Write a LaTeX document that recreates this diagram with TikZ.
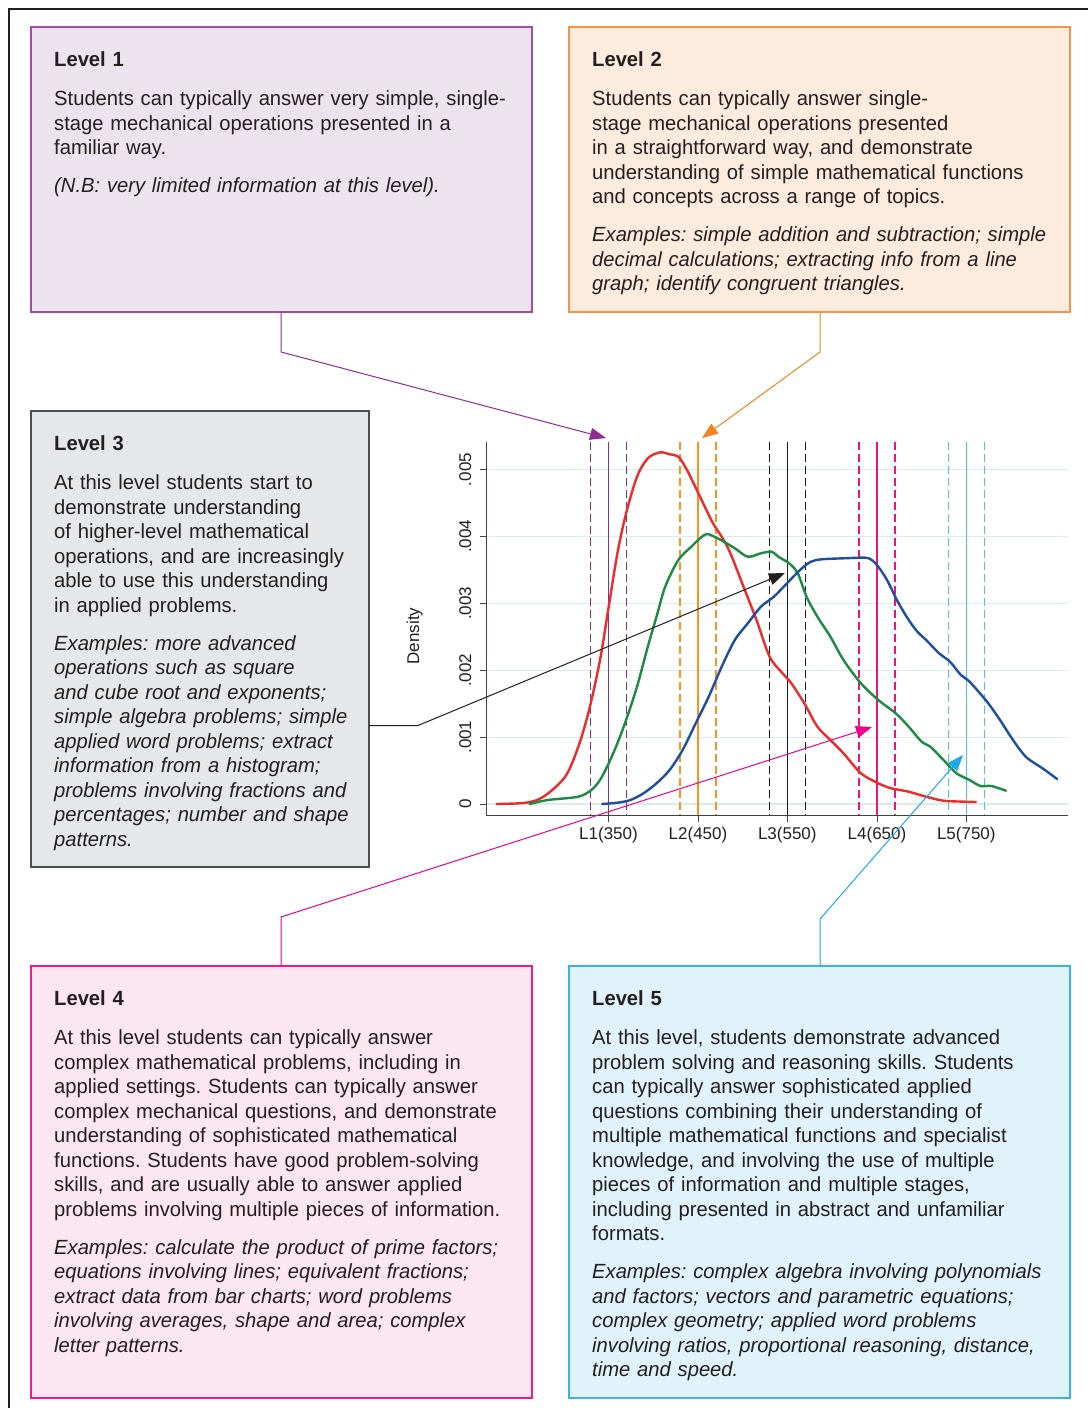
\documentclass[tikz,border=0pt]{standalone}
\usepackage{fontspec}
\setmainfont[FakeStretch=0.985]{Liberation Sans}
\newfontfamily\chartfam{Liberation Sans}
\frenchspacing
\usetikzlibrary{arrows.meta}
\definecolor{textc}{HTML}{231F20}
\definecolor{pur}{HTML}{8E2D91}
\definecolor{purfill}{HTML}{EDE3EF}
\definecolor{purdraw}{HTML}{A24BA8}
\definecolor{org}{HTML}{F58220}
\definecolor{orgfill}{HTML}{FDECDD}
\definecolor{orgdraw}{HTML}{F59449}
\definecolor{greyfill}{HTML}{E6E7E8}
\definecolor{greydraw}{HTML}{4D4D4F}
\definecolor{mag}{HTML}{EC008C}
\definecolor{magfill}{HTML}{FCE6EF}
\definecolor{magdraw}{HTML}{EC1C8C}
\definecolor{cyn}{HTML}{1CAAE2}
\definecolor{cynfill}{HTML}{E0F2FA}
\definecolor{cyndraw}{HTML}{35B5E5}
\definecolor{lonec}{HTML}{7B3294}
\definecolor{ltwoc}{HTML}{F7941D}
\definecolor{lthreec}{HTML}{1A1A1A}
\definecolor{lfourc}{HTML}{E5177E}
\definecolor{lfivec}{HTML}{4FC4E0}
\definecolor{gridc}{HTML}{DCEBED}
\definecolor{redc}{HTML}{EC2B2B}
\definecolor{greenc}{HTML}{1D8A43}
\definecolor{bluec}{HTML}{1F4E9E}
\begin{document}
\begin{tikzpicture}[x=1pt,y=-1pt,
  levelbox/.style={rectangle, inner sep=0pt, outer sep=0pt, line width=1.5pt, anchor=north west},
  txt/.style={anchor=base west, inner sep=0pt, text width=520pt, align=left,
    font=\fontsize{20.5}{24.5}\selectfont, text=textc},
  chartfont/.style={font=\chartfam\fontsize{17}{20}\selectfont, text=textc, inner sep=0pt},
  conn/.style={line width=1pt, -{Triangle[length=16pt,width=12pt]}},
  curve/.style={line width=2.4pt, smooth, tension=0.5, line join=round, line cap=round},
  lvl/.style={line width=1.3pt},
  lvldash/.style={line width=1.3pt, dash pattern=on 8pt off 4pt}
]
\useasboundingbox (0,0) rectangle (1088,1408);
\fill[white] (0,0) rectangle (1088,1408);

% outer frame
\draw[textc, line width=2.2pt] (9,1408) -- (9,9) -- (1088,9);

% boxes
\node[levelbox, fill=purfill, draw=purdraw, minimum width=501pt, minimum height=285pt] (l1box) at (31,27) {};
\node[levelbox, fill=orgfill, draw=orgdraw, minimum width=501pt, minimum height=285pt] (l2box) at (569,27) {};
\node[levelbox, fill=greyfill, draw=greydraw, minimum width=338pt, minimum height=456pt] (l3box) at (31,411) {};
\node[levelbox, fill=magfill, draw=magdraw, minimum width=501pt, minimum height=432pt] (l4box) at (31,966) {};
\node[levelbox, fill=cynfill, draw=cyndraw, minimum width=501pt, minimum height=432pt] (l5box) at (569,966) {};

% texts
\node[txt] (l1text) at (54,66.7) {\textbf{Level 1}\\[14.5pt]
Students can typically answer very simple, single-\\
stage mechanical operations presented in a\\
familiar way.\\[13.5pt]
\textit{(N.B: very limited information at this level).}};

\node[txt] (l2text) at (592,66.7) {\textbf{Level 2}\\[14.5pt]
Students can typically answer single-\\
stage mechanical operations presented\\
in a straightforward way, and demonstrate\\
understanding of simple mathematical functions\\
and concepts across a range of topics.\\[13.5pt]
\textit{Examples: simple addition and subtraction; simple}\\
\textit{decimal calculations; extracting info from a line}\\
\textit{graph; identify congruent triangles.}};

\node[txt] (l3text) at (54,450.7) {\textbf{Level 3}\\[14.5pt]
At this level students start to\\
demonstrate understanding\\
of higher-level mathematical\\
operations, and are increasingly\\
able to use this understanding\\
in applied problems.\\[13.5pt]
\textit{Examples: more advanced}\\
\textit{operations such as square}\\
\textit{and cube root and exponents;}\\
\textit{simple algebra problems; simple}\\
\textit{applied word problems; extract}\\
\textit{information from a histogram;}\\
\textit{problems involving fractions and}\\
\textit{percentages; number and shape}\\
\textit{patterns.}};

\node[txt] (l4text) at (54,1005.7) {\textbf{Level 4}\\[14.5pt]
At this level students can typically answer\\
complex mathematical problems, including in\\
applied settings. Students can typically answer\\
complex mechanical questions, and demonstrate\\
understanding of sophisticated mathematical\\
functions. Students have good problem-solving\\
skills, and are usually able to answer applied\\
problems involving multiple pieces of information.\\[13.5pt]
\textit{Examples: calculate the product of prime factors;}\\
\textit{equations involving lines; equivalent fractions;}\\
\textit{extract data from bar charts; word problems}\\
\textit{involving averages, shape and area; complex}\\
\textit{letter patterns.}};

\node[txt] (l5text) at (592,1005.7) {\textbf{Level 5}\\[14.5pt]
At this level, students demonstrate advanced\\
problem solving and reasoning skills. Students\\
can typically answer sophisticated applied\\
questions combining their understanding of\\
multiple mathematical functions and specialist\\
knowledge, and involving the use of multiple\\
pieces of information and multiple stages,\\
including presented in abstract and unfamiliar\\
formats.\\[13.5pt]
\textit{Examples: complex algebra involving polynomials}\\
\textit{and factors; vectors and parametric equations;}\\
\textit{complex geometry; applied word problems}\\
\textit{involving ratios, proportional reasoning, distance,}\\
\textit{time and speed.}};

% chart gridlines
\foreach \k in {0,...,5} {
  \draw[gridc, line width=1.2pt] (486,804-66.9*\k) -- (1068,804-66.9*\k);
}
% level lines
\foreach \xx/\col in {608.5/lonec, 698/ltwoc, 787.3/lthreec, 877/lfourc, 966.3/lfivec} {
  \draw[\col, lvl] (\xx,441.5) -- (\xx,815);
  \draw[\col, lvldash] (\xx-18,441.5) -- (\xx-18,815);
  \draw[\col, lvldash] (\xx+18,441.5) -- (\xx+18,815);
}
% axes
\draw[textc!85, line width=1pt] (486,441.5) -- (486,815) -- (1068,815);
\foreach \k/\lab in {0/0, 1/.001, 2/.002, 3/.003, 4/.004, 5/.005} {
  \draw[textc!85, line width=1pt] (480,804-66.9*\k) -- (486,804-66.9*\k);
  \node[chartfont, rotate=90, anchor=base] (yl\k) at (471,804-66.9*\k) {\lab};
}
\node[chartfont, rotate=90, anchor=base] (ylabel) at (419,636) {Density};
\foreach \xx/\lab/\nm in {608.5/L1(350)/a, 698/L2(450)/b, 787.3/L3(550)/c, 877/L4(650)/d, 966.3/L5(750)/e} {
  \draw[textc!85, line width=1pt] (\xx,815) -- (\xx,822);
  \node[chartfont, anchor=base] (xl\nm) at (\xx,839) {\lab};
}

% curves
\draw[redc, curve] plot coordinates {
(496.5,804) (526.1,802.7) (543.5,796.7) (565.2,776.7) (578.3,746.7) (589.1,710)
(600,660) (608.7,606.7) (617.4,553.3) (626.1,513.3) (637,476.7) (647.8,458.3)
(660,452.3) (669.6,454.3) (678.3,456.7) (687,470) (700,496.7) (713,523.3)
(721.7,536.7) (730.4,553.3) (743.5,586.7) (756.5,620) (769.6,656.7) (782.6,673.3)
(791.3,683.3) (804.3,703.3) (817.4,726.7) (830.4,740) (843.5,753.3) (860.9,773.3)
(878.3,783.3) (891.3,788.3) (908.7,791.7) (926.1,796.7) (943.5,800.7) (965.2,801.7) (976,802)};
\draw[greenc, curve] plot coordinates {
(529.6,804) (547.8,800) (578.3,796.7) (591.3,790) (600,780) (608.7,763.3)
(617.4,743.3) (626.1,720) (637,686.7) (647.8,646.7) (656.5,616.7) (665.2,586.7)
(678.3,560) (691.3,546.7) (700,538.3) (706.5,534) (713,536) (723.9,541.7)
(734.8,548.3) (747.8,556.7) (760.9,553.3) (771.7,551.7) (778.3,556.7) (789.1,563.3)
(797.8,573.3) (806.5,596.7) (817.4,616.7) (830.4,636.7) (843.5,660) (860.9,683.3)
(878.3,700) (895.7,713.3) (908.7,726.7) (921.7,741.7) (930.4,746.7) (943.5,760)
(956.5,773.3) (969.6,780) (980.4,786) (991.3,786) (1006,790.7)};
\draw[bluec, curve] plot coordinates {
(602.2,804) (617.4,802.7) (630.4,800) (643.5,793.3) (656.5,783.3) (669.6,770)
(682.6,750) (695.7,723.3) (708.7,696.7) (721.7,666.7) (734.8,640) (747.8,623.3)
(760.9,606.7) (773.9,596.7) (787,583.3) (800,570) (810.9,561.7) (821.7,559.3)
(843.5,558.3) (865.2,557.7) (871.7,560) (878.3,566.7) (887,580) (897.8,601.7)
(908.7,620) (917.4,631.7) (926.1,640) (939.1,653.3) (950,661.7) (960.9,675)
(969.6,681.7) (987,701.7) (1000,720) (1013,740) (1026.1,757) (1043.5,769) (1057,779)};

% connectors
\coordinate (k1) at (281,352);
\coordinate (t1) at (606,438);
\draw[pur, conn] (l1box.south -| k1) -- (k1) -- (t1);
\coordinate (k2) at (820,352);
\coordinate (t2) at (702,438);
\draw[org, conn] (l2box.south -| k2) -- (k2) -- (t2);
\coordinate (k3) at (418,725.5);
\coordinate (t3) at (785,573);
\draw[textc, conn] (l3box.east |- k3) -- (k3) -- (t3);
\coordinate (k4) at (281,917);
\coordinate (t4) at (872,727);
\draw[mag, conn] (l4box.north -| k4) -- (k4) -- (t4);
\coordinate (k5) at (820,919);
\coordinate (t5) at (963,755);
\draw[cyn, conn] (l5box.north -| k5) -- (k5) -- (t5);
\end{tikzpicture}
\end{document}
